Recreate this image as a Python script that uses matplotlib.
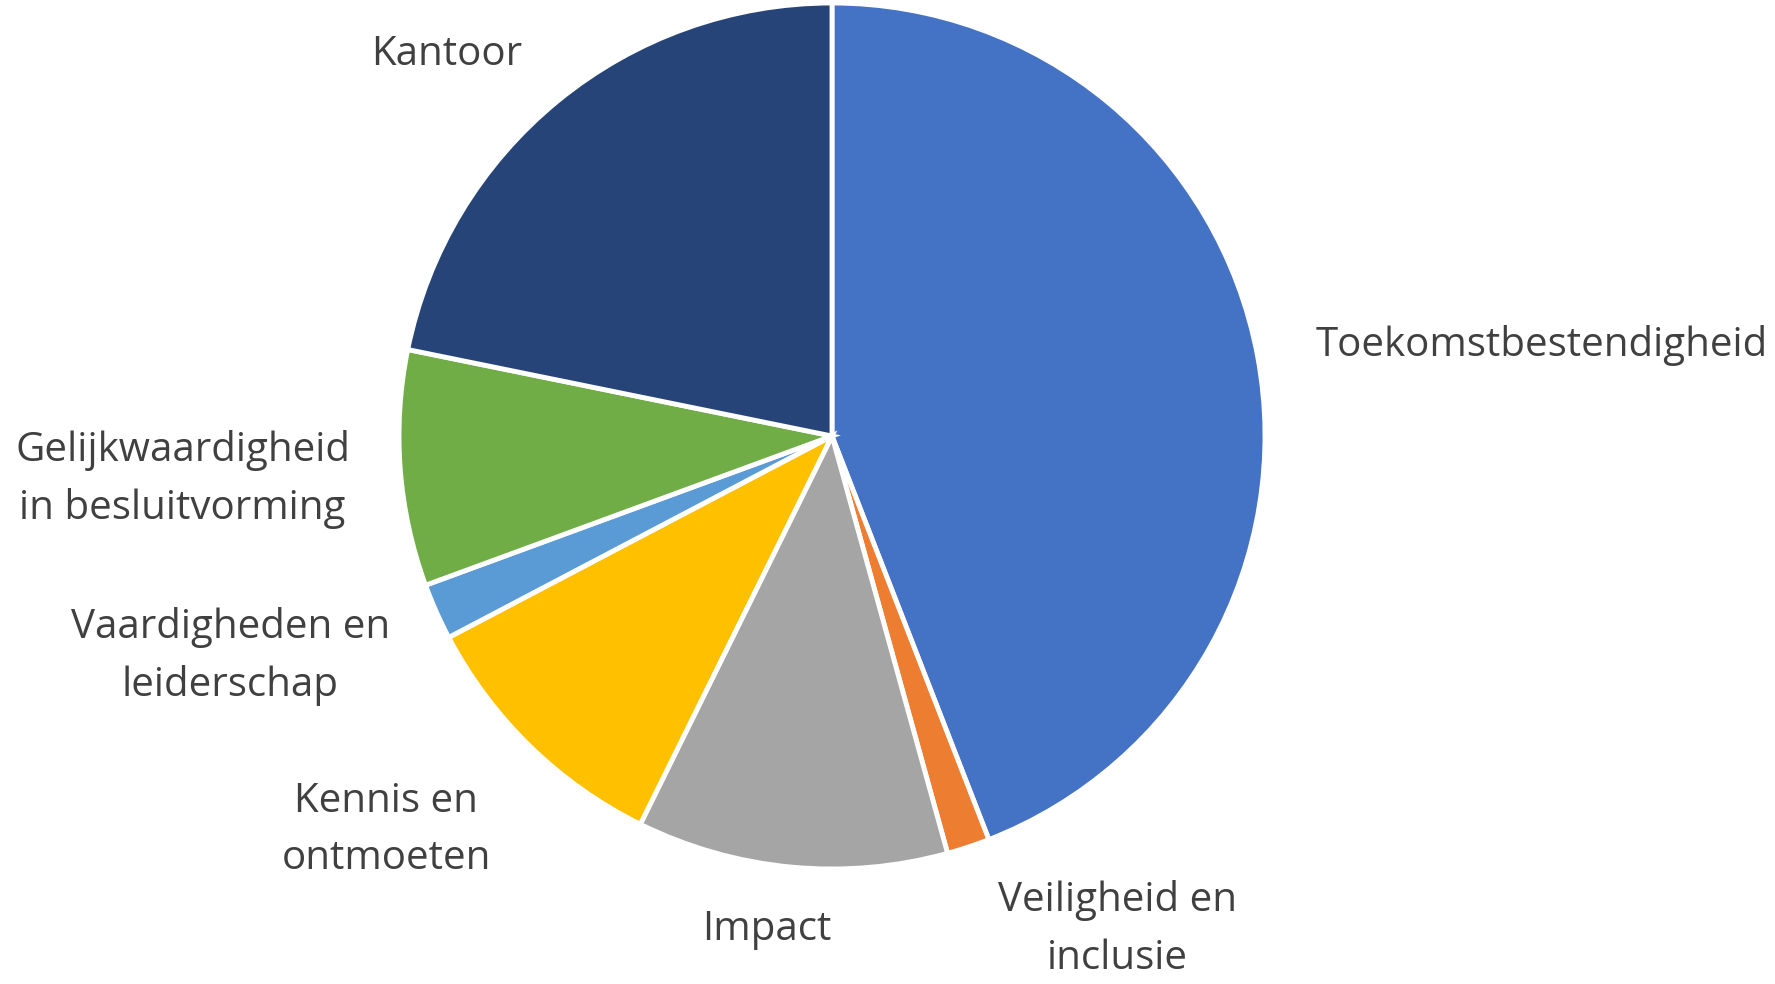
import matplotlib
matplotlib.use("Agg")
import matplotlib.pyplot as plt

categories = ["Toekomstbestendigheid", "Veiligheid en\ninclusie", "Impact",
              "Kennis en\nontmoeten", "Vaardigheden en\nleiderschap",
              "Gelijkwaardigheid\nin besluitvorming", "Kantoor"]
shares = [44.1, 1.6, 11.6, 10.0, 2.1, 8.8, 21.8]
colors = ["#4472C4", "#ED7D31", "#A5A5A5", "#FFC000", "#5B9BD5", "#70AD47", "#264478"]

# label anchor positions (in pie-radius units)
label_pos = [(1.64, 0.21), (0.66, -1.14), (-0.15, -1.14), (-1.03, -0.91),
             (-1.39, -0.51), (-1.50, -0.10), (-0.89, 0.88)]

W, H = 1775, 984
fig = plt.figure(figsize=(W / 100, H / 100), dpi=100)
fig.patch.set_facecolor("white")
cx, cy, r = 832, 436, 433
ax = fig.add_axes([(cx - r) / W, (H - cy - r) / H, 2 * r / W, 2 * r / H])

ax.pie(shares, colors=colors, startangle=90, counterclock=False, radius=1,
       wedgeprops=dict(edgecolor="white", linewidth=3.5))
ax.set_xlim(-1, 1)
ax.set_ylim(-1, 1)
ax.set_aspect("equal")
ax.axis("off")

for lab, (x, y) in zip(categories, label_pos):
    ax.text(x, y, lab, ha="center", va="center", fontsize=29, color="#404040",
            family="Open Sans", linespacing=1.55, clip_on=False)

fig.savefig("out.png", dpi=100, facecolor="white")
